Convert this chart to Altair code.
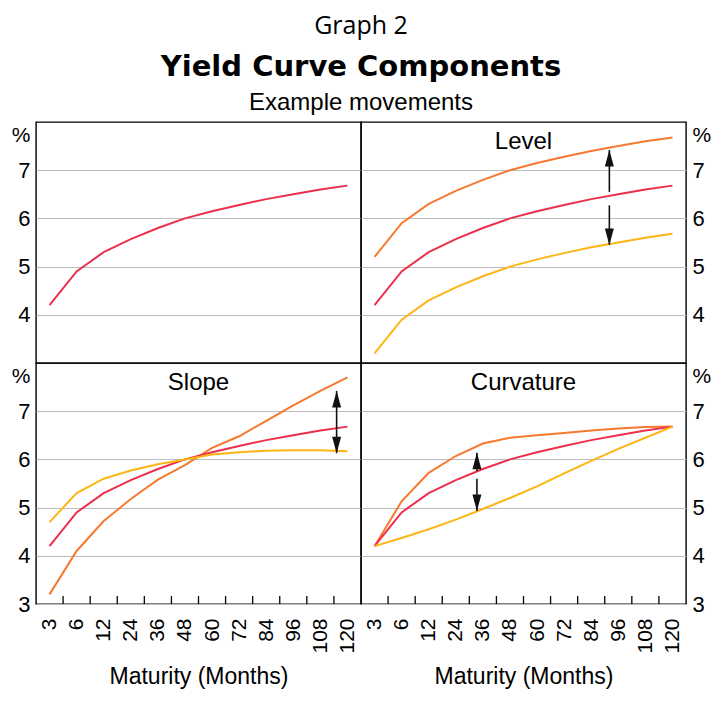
import altair as alt
import pandas as pd

maturities = [3, 6, 12, 24, 36, 48, 60, 72, 84, 96, 108, 120]

base = [4.2, 4.9, 5.3, 5.57, 5.8, 6.0, 6.15, 6.28, 6.4, 6.5, 6.6, 6.68]
level_up = [5.2, 5.9, 6.3, 6.57, 6.8, 7.0, 7.15, 7.28, 7.4, 7.5, 7.6, 7.68]
level_down = [3.2, 3.9, 4.3, 4.57, 4.8, 5.0, 5.15, 5.28, 5.4, 5.5, 5.6, 5.68]
slope_steep = [3.2, 4.1, 4.72, 5.18, 5.58, 5.88, 6.24, 6.48, 6.8, 7.12, 7.42, 7.7]
slope_flat = [4.7, 5.3, 5.6, 5.77, 5.9, 6.0, 6.1, 6.15, 6.18, 6.19, 6.19, 6.17]
curve_up = [4.2, 5.13, 5.72, 6.07, 6.33, 6.45, 6.5, 6.55, 6.6, 6.64, 6.67, 6.68]
curve_down = [4.2, 4.37, 4.55, 4.75, 4.97, 5.2, 5.44, 5.71, 5.97, 6.22, 6.45, 6.68]

# category boundaries where the x-axis tick marks sit (in maturity-index units)
tick_positions = [0.5, 1.5, 2.5, 3.5, 4.5, 5.5, 6.5, 7.5, 8.5, 9.5, 10.5]

# arrows: (x position in maturity-index units, start, tip, direction)
level_arrows = [(8.67, 6.55, 7.42, "up"), (8.67, 6.27, 5.45, "down")]
slope_arrows = [(10.6, 6.62, 7.42, "up"), (10.6, 6.62, 6.13, "down")]
curve_arrows = [(3.78, 5.76, 6.14, "up"), (3.78, 5.6, 4.93, "down")]

RED = "#EC2F4B"
ORANGE = "#F6792F"
YELLOW = "#FDB515"
FONT = "Liberation Sans"

W, H = 325, 241
xscale = alt.Scale(domain=[-0.5, 11.5], nice=False, zero=False)
yscale = alt.Scale(domain=[3, 8], nice=False, zero=False)
label_expr = "[" + ",".join(f"'{m}'" for m in maturities) + "][datum.value]"

UP_PATH = "M0,0L0.3,1.1L-0.3,1.1Z"
DOWN_PATH = "M0,0L0.3,-1.1L-0.3,-1.1Z"


def lines_df(series):
    rows = []
    for name, vals, col in series:
        for i, v in enumerate(vals):
            rows.append({"idx": i, "value": v, "series": name, "col": col})
    return pd.DataFrame(rows)


def make_panel(series, title, arrows, side, bottom):
    df = lines_df(series)
    yvals = [3, 4, 5, 6, 7] if bottom else [4, 5, 6, 7]
    left = side == "left"
    yaxis = alt.Axis(
        orient=side, values=yvals, grid=True, gridColor="#bdbdbd", gridWidth=1,
        ticks=False, domain=False, labelFont=FONT, labelFontSize=22,
        labelColor="black", labelPadding=6,
        title="%", titleAngle=0, titleFont=FONT, titleFontSize=21,
        titleFontWeight="normal", titleColor="black",
        titleX=-6 if left else 6, titleY=13,
        titleAlign="right" if left else "left", titleBaseline="middle",
    )
    if bottom:
        xaxis = alt.Axis(
            values=list(range(12)), labelExpr=label_expr, labelAngle=270,
            ticks=False, domain=False, grid=False, labelFont=FONT,
            labelFontSize=21, labelColor="black", labelPadding=14,
            title="Maturity (Months)", titleFont=FONT, titleFontSize=23,
            titleFontWeight="normal", titleColor="black", titlePadding=12,
        )
    else:
        xaxis = None
    layers = [
        alt.Chart(df).mark_line(strokeWidth=2).encode(
            x=alt.X("idx:Q", scale=xscale, axis=xaxis),
            y=alt.Y("value:Q", scale=yscale, axis=yaxis),
            color=alt.Color("col:N", scale=None),
            detail="series:N",
        )
    ]
    if bottom:
        tdf = pd.DataFrame({"b": tick_positions})
        layers.append(
            alt.Chart(tdf).mark_rule(strokeWidth=1.3, color="black").encode(
                x=alt.X("b:Q", scale=xscale, axis=None),
                y=alt.value(H - 8),
                y2=alt.value(H),
            )
        )
    if arrows:
        adf = pd.DataFrame(arrows, columns=["x", "y0", "y1", "dir"])
        layers.append(
            alt.Chart(adf).mark_rule(strokeWidth=1.6, color="#111").encode(
                x=alt.X("x:Q", scale=xscale, axis=None),
                y=alt.Y("y0:Q", scale=yscale, axis=yaxis),
                y2="y1:Q",
            )
        )
        layers.append(
            alt.Chart(adf).mark_point(filled=True, opacity=1, color="#111", strokeWidth=0, size=900).encode(
                x=alt.X("x:Q", scale=xscale, axis=None),
                y=alt.Y("y1:Q", scale=yscale, axis=yaxis),
                shape=alt.Shape("dir:N", scale=alt.Scale(domain=["up", "down"], range=[UP_PATH, DOWN_PATH]), legend=None),
            )
        )
    if title:
        layers.append(
            alt.Chart(pd.DataFrame({"t": [title]})).mark_text(
                font=FONT, fontSize=24, color="black", align="center", baseline="middle"
            ).encode(text="t:N", x=alt.value(W / 2), y=alt.value(20))
        )
    return alt.layer(*layers).resolve_axis(x="independent").properties(width=W, height=H)


tl = make_panel([("base", base, RED)], "", None, "left", False)
tr = make_panel([("up", level_up, ORANGE), ("base", base, RED), ("down", level_down, YELLOW)],
                "Level", level_arrows, "right", False)
bl = make_panel([("up", slope_steep, ORANGE), ("base", base, RED), ("down", slope_flat, YELLOW)],
                "Slope", slope_arrows, "left", True)
br = make_panel([("up", curve_up, ORANGE), ("base", base, RED), ("down", curve_down, YELLOW)],
                "Curvature", curve_arrows, "right", True)

grid = alt.concat(tl, tr, bl, br, columns=2, spacing=0, bounds="flush").properties(
    title=alt.TitleParams(
        "Yield Curve Components", subtitle="Example movements",
        font="DejaVu Sans", fontSize=29, fontWeight="bold", color="black",
        subtitleFont=FONT, subtitleFontSize=24, subtitleColor="black",
        subtitlePadding=9, anchor="middle", offset=6,
    )
)

chart = alt.vconcat(grid).properties(
    title=alt.TitleParams("Graph 2", font="Open Sans", fontSize=25, fontWeight="normal",
                          color="black", anchor="middle", offset=14),
    padding={"left": 2, "top": 6, "right": 0, "bottom": 0},
).configure_view(stroke="black", strokeWidth=1.4).configure_concat(spacing=0)

chart.save("out.html", embed_options={"renderer": "svg", "actions": False})
